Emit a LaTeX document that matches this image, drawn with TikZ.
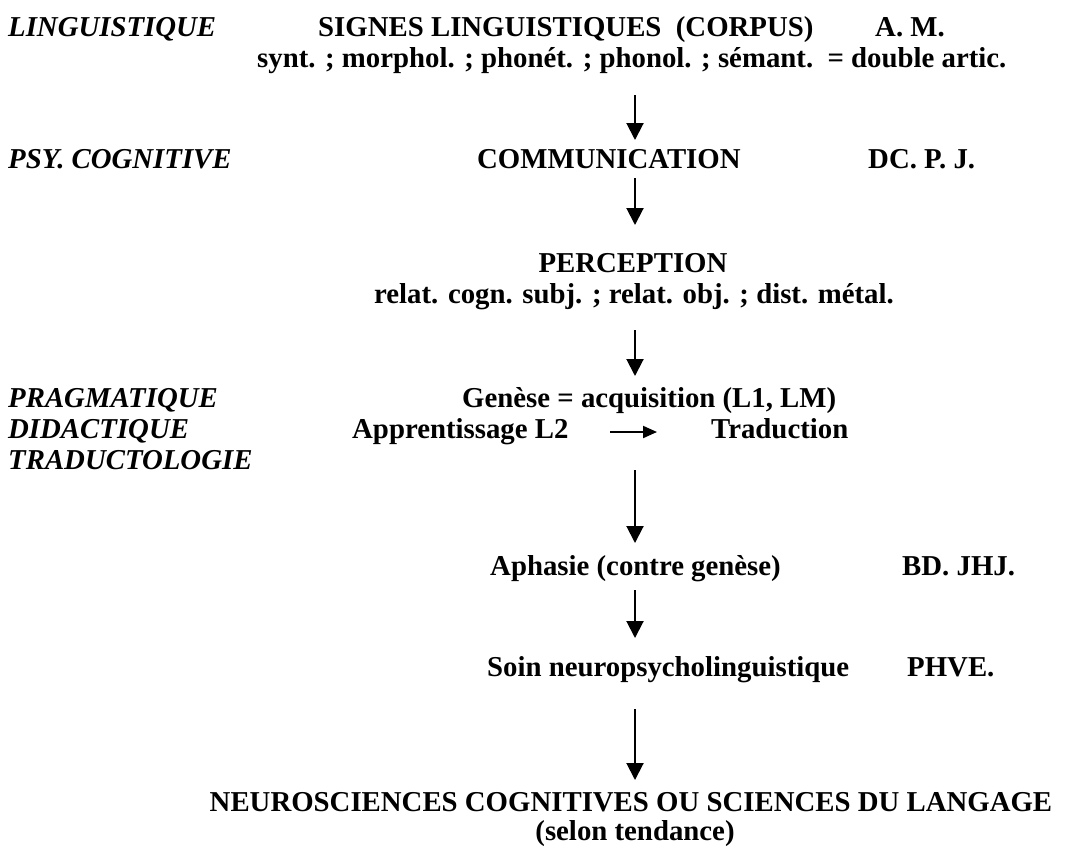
\documentclass[tikz,border=0pt]{standalone}
\usepackage{fontspec}
\setmainfont{Liberation Serif}
\usetikzlibrary{arrows.meta}
\begin{document}
\begin{tikzpicture}[x=1pt,y=-1pt,
  txt/.style={inner sep=0pt,anchor=base west,font=\fontsize{28.8}{32}\selectfont\bfseries},
  dom/.style={txt,font=\fontsize{28.8}{32}\selectfont\bfseries\itshape},
  arr/.style={line width=2pt,-{Triangle[length=17pt,width=17pt]}},
  harr/.style={line width=2pt,-{Triangle[length=14pt,width=12pt]}}]
\useasboundingbox (0,0) rectangle (1065,847);
% row 1
\node[dom] (ling) at (8,36) {LINGUISTIQUE};
\node[txt] (signes) at (318,36) {SIGNES LINGUISTIQUES\ \ (CORPUS)};
\node[txt] (am) at (875,36) {A. M.};
\node[txt] (synt) at (257,67) {synt. ; morphol. ; phonét. ; phonol. ; sémant.\ \ = double artic.};
% row 2
\node[dom] (psy) at (8,168) {PSY. COGNITIVE};
\node[txt] (comm) at (477,168) {COMMUNICATION};
\node[txt] (dc) at (868,168) {DC. P. J.};
% row 3
\node[txt,anchor=base] (perc) at (633,272) {PERCEPTION};
\node[txt,anchor=base] (relat) at (634,303) {relat. cogn. subj. ; relat. obj. ; dist. métal.};
% row 4
\node[dom] (prag) at (8,407) {PRAGMATIQUE};
\node[txt] (gen) at (462,407) {Genèse = acquisition (L1, LM)};
\node[dom] (did) at (8,438) {DIDACTIQUE};
\node[txt] (app) at (352,438) {Apprentissage L2};
\node[txt] (trad) at (711,438) {Traduction};
\node[dom] (tradu) at (8,469) {TRADUCTOLOGIE};
% row 5
\node[txt] (aph) at (490,575) {Aphasie (contre genèse)};
\node[txt] (bd) at (902,575) {BD. JHJ.};
% row 6
\node[txt] (soin) at (487,676) {Soin neuropsycholinguistique};
\node[txt] (phve) at (907,676) {PHVE.};
% row 7
\node[txt,anchor=base] (neuro) at (631,811) {NEUROSCIENCES COGNITIVES OU SCIENCES DU LANGAGE};
\node[txt,anchor=base] (selon) at (635,840) {(selon tendance)};
% arrow ends
\coordinate (a1s) at (635,95);  \coordinate (a1e) at (635,140);
\coordinate (a2s) at (635,178); \coordinate (a2e) at (635,225);
\coordinate (a3s) at (635,330); \coordinate (a3e) at (635,376);
\coordinate (a4s) at (635,470); \coordinate (a4e) at (635,543);
\coordinate (a5s) at (635,590); \coordinate (a5e) at (635,638);
\coordinate (a6s) at (635,709); \coordinate (a6e) at (635,780);
\coordinate (hs) at (610,432);  \coordinate (he) at (657,432);
\draw[arr] (a1s) -- (a1e);
\draw[arr] (a2s) -- (a2e);
\draw[arr] (a3s) -- (a3e);
\draw[arr] (a4s) -- (a4e);
\draw[arr] (a5s) -- (a5e);
\draw[arr] (a6s) -- (a6e);
\draw[harr] (hs) -- (he);
\end{tikzpicture}
\end{document}
